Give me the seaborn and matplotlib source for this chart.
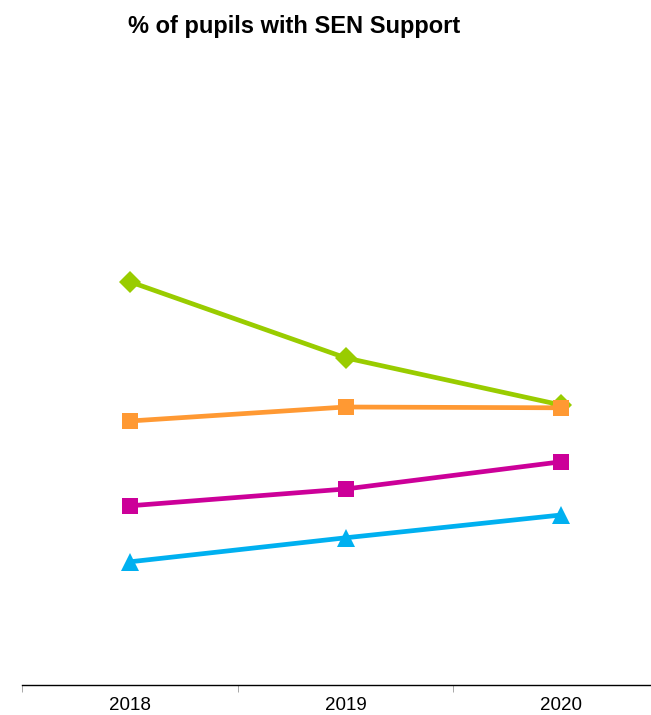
import pandas as pd
import matplotlib
matplotlib.use("Agg")
import matplotlib.pyplot as plt
import seaborn as sns

# Values (no y-axis shown, scale estimated)
years = ["2018", "2019", "2020"]
green_vals = [10.08, 8.18, 7.0]
orange_vals = [6.6, 6.95, 6.93]
magenta_vals = [4.48, 4.9, 5.58]
blue_vals = [3.08, 3.68, 4.25]
series_names = ["Series A", "Series B", "Series C", "Series D"]

rows = []
for name, vals in zip(series_names, [green_vals, orange_vals, magenta_vals, blue_vals]):
    for i, v in enumerate(vals):
        rows.append({"series": name, "pos": i, "pct": v})
df = pd.DataFrame(rows)

sns.set_style("white")
plt.rcParams["font.family"] = ["Liberation Sans", "DejaVu Sans"]

fig = plt.figure(figsize=(6.51, 7.15), dpi=100)
ax = fig.add_axes([22.25 / 651, 1 - 685 / 715, 646.5 / 651, 640 / 715])

palette = {"Series A": "#99CC00", "Series B": "#FF9933",
           "Series C": "#CC0099", "Series D": "#00B0F0"}
markers = {"Series A": "D", "Series B": "s", "Series C": "s", "Series D": "^"}
sizes = {"Series A": 11.5, "Series B": 12, "Series C": 12, "Series D": 13.5}

for name in series_names:
    sub = df[df["series"] == name]
    sns.lineplot(data=sub, x="pos", y="pct", ax=ax, color=palette[name],
                 marker=markers[name], markersize=sizes[name], linewidth=3.4,
                 markeredgewidth=0, legend=False)

ax.set_xlim(-0.5, 2.5)
ax.set_ylim(0, 16)
ax.set_xticks(range(len(years)))
ax.set_xticklabels(years, fontsize=13.5, color="black")
ax.set_xticks([-0.5, 0.5, 1.5, 2.5], minor=True)
ax.tick_params(axis="x", which="major", length=0, pad=9)
ax.tick_params(axis="x", which="minor", length=5, color="#999999", direction="out", bottom=True)
ax.set_yticks([])
ax.set_xlabel("")
ax.set_ylabel("")
for s in ["top", "right", "left"]:
    ax.spines[s].set_visible(False)
ax.spines["bottom"].set_color("black")
ax.spines["bottom"].set_linewidth(1)

fig.text(294 / 651, 1 - 26 / 715, "% of pupils with SEN Support",
         ha="center", va="center", fontsize=17, fontweight="bold", color="black")

fig.savefig("out.png", dpi=100)
